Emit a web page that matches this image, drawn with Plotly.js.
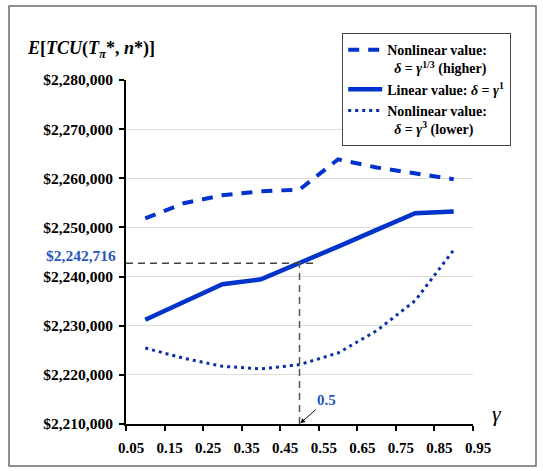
<!DOCTYPE html>
<html>
<head>
<meta charset="utf-8">
<script src="https://cdn.plot.ly/plotly-3.0.1.min.js"></script>
<style>
  html, body { margin: 0; padding: 0; background: #fff; }
  #chart { width: 543px; height: 471px; }
</style>
</head>
<body>
<div id="chart"></div>
<script>
// ---- data ----
const gamma = [0.1, 0.2, 0.3, 0.4, 0.5, 0.6, 0.7, 0.8, 0.9];
const higherValues = [2251830, 2254930, 2256550, 2257360, 2257700, 2263850, 2262200, 2261100, 2259800];
const linearValues = [2231220, 2234800, 2238440, 2239450, 2242716, 2246100, 2249500, 2252900, 2253240];
const lowerValues  = [2225460, 2223370, 2221740, 2221200, 2222090, 2224450, 2228980, 2235100, 2245420];
const seriesNames = [
  "<b>Nonlinear value:</b><br>\u00a0\u00a0<b><i>δ</i> = <i>γ</i><sup>1/3</sup> (higher)</b>\u00a0\u00a0\u00a0\u00a0",
  "<b>Linear value: <i>δ</i> = <i>γ</i><sup>1</sup></b>",
  "<b>Nonlinear value:</b><br>\u00a0\u00a0<b><i>δ</i> = <i>γ</i><sup>3</sup> (lower)</b>"
];
const markGamma = 0.5;
const markValue = 2242716;
const markLabel = "$2,242,716";
const yTitle = "<b><i>E</i>[<i>TCU</i>(<i>T</i><sub><i>π</i></sub>*, <i>n</i>*)]</b>";
const xTitle = "<i>γ</i>";

// ---- layout geometry (pixels) ----
const W = 543, H = 471;
const M = { l: 126, r: 70, t: 80, b: 47 };
const PW = W - M.l - M.r, PH = H - M.t - M.b;
const px = v => (v - M.l) / PW;      // page px -> paper x
const py = v => (H - M.b - v) / PH;  // page px -> paper y

const blue = "#0033cc";
const serif = "Liberation Serif, Times New Roman, serif";

const traces = [
  { x: gamma, y: higherValues, name: seriesNames[0], mode: "lines",
    line: { color: blue, width: 4, dash: "11px,9px" } },
  { x: gamma, y: linearValues, name: seriesNames[1], mode: "lines",
    line: { color: blue, width: 4.5 } },
  { x: gamma, y: lowerValues, name: seriesNames[2], mode: "lines",
    line: { color: "#0a2fa8", width: 3, dash: "3px,4px" } }
];

const layout = {
  width: W, height: H,
  margin: M,
  paper_bgcolor: "#fff", plot_bgcolor: "#fff",
  font: { family: serif, size: 15, color: "#000" },
  showlegend: true,
  legend: {
    x: px(342), y: py(33), xanchor: "left", yanchor: "top",
    bgcolor: "#fff", bordercolor: "#444", borderwidth: 1.2,
    font: { family: serif, size: 14, color: "#000" },
    valign: "top", tracegroupgap: 0, itemwidth: 34
  },
  xaxis: {
    range: [0.05, 0.95], tick0: 0.05, dtick: 0.1, tickformat: ".2f",
    showgrid: false, zeroline: false,
    showline: true, linecolor: "#000", linewidth: 2,
    ticks: "outside", ticklen: 5, tickwidth: 2, tickcolor: "#000",
    tickfont: { family: serif, size: 15, weight: "bold", color: "#000" },
    ticklabelshift: 5, ticklabelstandoff: 4
  },
  yaxis: {
    range: [2210000, 2280000], dtick: 10000, tickprefix: "$", tickformat: ",d",
    showgrid: true, gridcolor: "#dcdcdc", gridwidth: 1, zeroline: false,
    showline: true, linecolor: "#000", linewidth: 2,
    ticks: "outside", ticklen: 5, tickwidth: 2, tickcolor: "#000",
    tickfont: { family: serif, size: 15.5, weight: "bold", color: "#000" },
    ticklabelstandoff: 3
  },
  shapes: [
    // outer frame
    { type: "rect", xref: "paper", yref: "paper",
      x0: px(9), x1: px(536), y0: py(466), y1: py(6),
      line: { color: "#6b6b6b", width: 1.5 } },
    // horizontal reference dashed line
    { type: "line", xref: "x", yref: "y",
      x0: 0.05, x1: 0.54, y0: markValue, y1: markValue,
      line: { color: "#444", width: 1.5, dash: "7px,5px" } },
    // vertical reference dashed line
    { type: "line", xref: "x", yref: "y",
      x0: markGamma, x1: markGamma, y0: 2210000, y1: 2243900,
      line: { color: "#555", width: 1.5, dash: "7px,5px" } }
  ],
  annotations: [
    { xref: "paper", yref: "paper", x: px(25), y: py(49), xanchor: "left", yanchor: "middle",
      text: yTitle, showarrow: false, font: { family: serif, size: 18, color: "#000" } },
    { xref: "paper", yref: "y", x: px(118), y: markValue, xanchor: "right", yanchor: "bottom",
      yshift: -3, text: "<b>" + markLabel + "</b>", showarrow: false,
      font: { family: serif, size: 15.5, color: "#2a55c0" } },
    { xref: "x", yref: "y", x: markGamma, y: 2210000, text: "<b>0.5</b>",
      showarrow: true, arrowhead: 2, arrowsize: 1, arrowwidth: 1, arrowcolor: "#111",
      ax: 27, ay: -24, standoff: 1,
      font: { family: serif, size: 15, color: "#2a55c0" } },
    { xref: "paper", yref: "paper", x: px(497), y: py(413), xanchor: "center", yanchor: "middle",
      text: xTitle, showarrow: false, font: { family: serif, size: 22, color: "#000" } }
  ]
};

Plotly.newPlot("chart", traces, layout, { displayModeBar: false, staticPlot: true });
</script>
</body>
</html>
